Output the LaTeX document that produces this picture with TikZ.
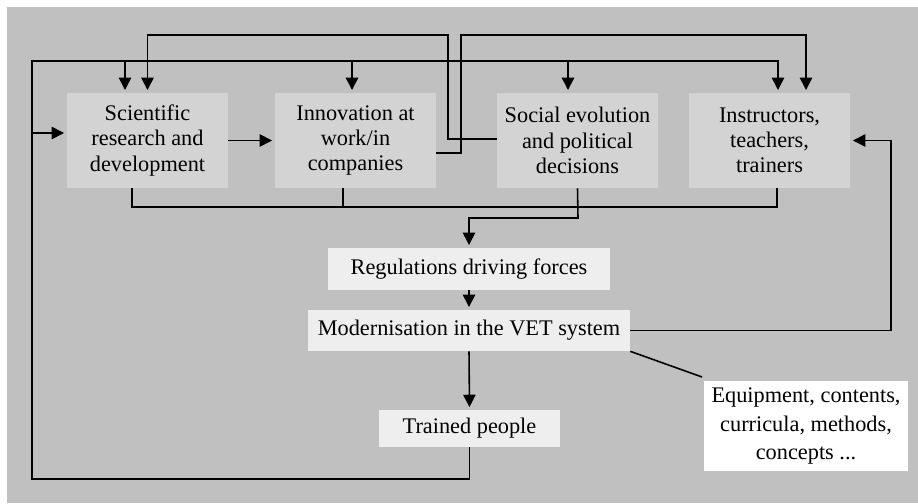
\documentclass[tikz,border=0pt]{standalone}
\usepackage{fontspec}
\setmainfont{Liberation Serif}
\usetikzlibrary{arrows.meta}
\definecolor{bggray}{HTML}{C0C0C0}
\definecolor{boxgray}{HTML}{D3D3D3}
\definecolor{lightbox}{HTML}{EEEEEE}
\tikzset{
	topbox/.style={fill=boxgray, minimum width=3.22cm, minimum height=1.9cm, align=center, inner sep=0pt, font=\fontsize{12.7}{14.4}\selectfont},
	flowbox/.style={fill=lightbox, inner sep=0pt, font=\fontsize{12.7}{14.4}\selectfont},
	conn/.style={line width=0.9pt},
	arr/.style={conn, -{Triangle[length=7pt,width=7pt]}, shorten >=1.5pt}
}
\begin{document}
\begin{tikzpicture}[x=0.02cm, y=-0.02cm]
	\useasboundingbox (0,0) rectangle (918,503);
	\fill[white] (0,0) rectangle (918,503);
	\fill[bggray] (7,7) rectangle (918,503);
	% boxes
	\node[topbox] (sci) at (147.5,140.5) {Scientific\\research and\\development};
	\node[topbox] (inno) at (355.5,140.5) {Innovation at\\work/in\\companies};
	\node[topbox] (soc) at (577.5,140.5) {Social evolution\\and political\\decisions};
	\node[topbox] (instr) at (769.5,140.5) {Instructors,\\teachers,\\trainers};
	\node[flowbox, minimum width=5.64cm, minimum height=0.84cm] (reg) at (469,269) {Regulations driving forces};
	\node[flowbox, minimum width=6.44cm, minimum height=0.82cm] (mod) at (469,330.5) {Modernisation in the VET system};
	\node[flowbox, minimum width=3.62cm, minimum height=0.74cm] (trained) at (469.5,428.5) {Trained people};
	\node[fill=white, minimum width=4.08cm, minimum height=1.8cm, align=center, inner sep=0pt, font=\fontsize{12.7}{16}\selectfont] (equip) at (806,426) {Equipment, contents,\\curricula, methods,\\concepts ...};
	% junctions
	\coordinate (loopbl) at (32,479);
	\coordinate (looptl) at (32,61);
	\coordinate (bus) at (0,207);
	\coordinate (eqtip) at (702,377);
	% feedback loop
	\draw[arr] (trained.south) |- (loopbl) -- (looptl) -| (instr.north -| 778,0);
	\draw[arr] (32,133) -- (sci.west |- 0,133);
	\draw[arr] (125,61) -- (sci.north -| 125,0);
	\draw[arr] (352,61) -- (inno.north -| 352,0);
	\draw[arr] (568,61) -- (soc.north -| 568,0);
	% top links
	\draw[arr] (sci.east) -- (inno.west);
	\draw[arr] (soc.west |- 0,139) -| (448,35) -| (sci.north);
	\draw[arr] (inno.east |- 0,153) -| (461,35) -| (instr.north -| 806,0);
	% collector
	\draw[conn] (sci.south -| 132,0) -- (bus -| 132,0) -| (instr.south -| 777,0);
	\draw[conn] (inno.south -| 343,0) -- (bus -| 343,0);
	\draw[arr] (soc.south) -- (578,218) -| (reg.north);
	% VET chain
	\draw[arr] (reg) -- (mod);
	\draw[arr] (mod.south) -- (trained.north);
	\draw[arr] (mod.east) -- (891,330.5) |- (instr.east);
	\draw[conn] (mod.south east) -- (eqtip);
\end{tikzpicture}
\end{document}
